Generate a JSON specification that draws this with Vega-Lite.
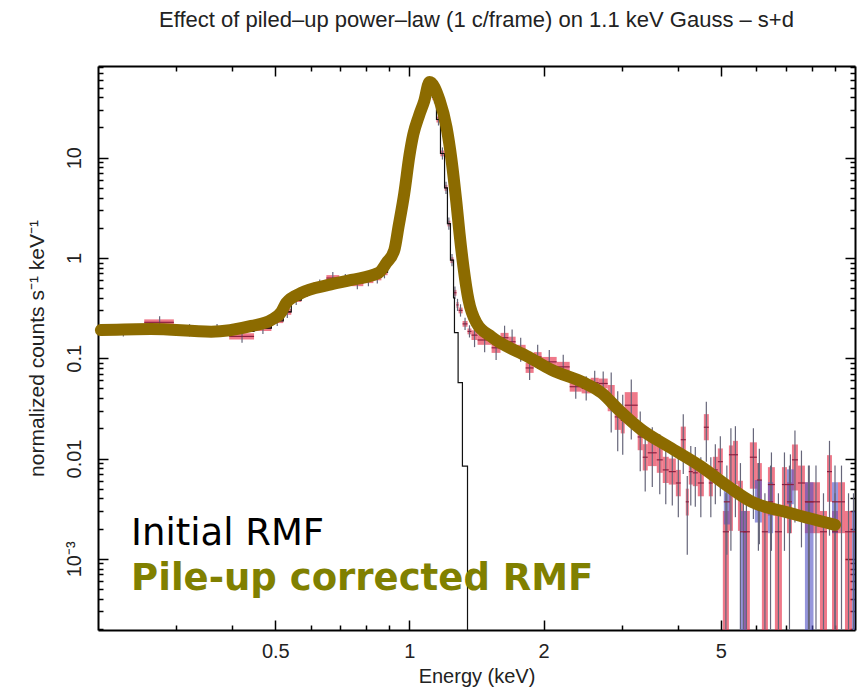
{
"$schema": "https://vega.github.io/schema/vega-lite/v6.json",
"width": 757, "height": 564,
"autosize": {"type": "none"},
"padding": {"left": 98, "top": 66, "right": 3, "bottom": 57},
"background": "white",
"title": {"text": "Effect of piled\u2013up power\u2013law (1 c/frame) on 1.1 keV Gauss \u2013 s+d", "font": "Liberation Sans", "fontSize": 22, "fontWeight": "normal", "color": "#222", "anchor": "middle", "offset": 33},
"config": {
 "view": {"stroke": null},
 "axis": {"domainColor": "black", "domainWidth": 2, "tickColor": "black", "tickWidth": 1.5, "grid": false,
  "labelFont": "Liberation Sans", "labelFontSize": 20, "labelColor": "#222", "labelOverlap": false, "labelFlush": false,
  "titleFont": "Liberation Sans", "titleFontSize": 21, "titleFontWeight": "normal", "titleColor": "#222"}
},
"datasets": {
 "bins": [
  {"g":"s","e0":0.203,"e1":0.254,"ec":0.228,"v":0.19,"b0":0.178,"b1":0.203,"w0":0.165,"w1":0.219},
  {"g":"s","e0":0.254,"e1":0.296,"ec":0.275,"v":0.228,"b0":0.213,"b1":0.244,"w0":0.198,"w1":0.262},
  {"g":"s","e0":0.296,"e1":0.346,"ec":0.321,"v":0.19,"b0":0.178,"b1":0.203,"w0":0.165,"w1":0.219},
  {"g":"s","e0":0.346,"e1":0.394,"ec":0.37,"v":0.19,"b0":0.178,"b1":0.203,"w0":0.165,"w1":0.219},
  {"g":"s","e0":0.394,"e1":0.448,"ec":0.421,"v":0.165,"b0":0.154,"b1":0.177,"w0":0.143,"w1":0.19},
  {"g":"s","e0":0.448,"e1":0.49,"ec":0.469,"v":0.2,"b0":0.187,"b1":0.214,"w0":0.174,"w1":0.23},
  {"g":"s","e0":0.49,"e1":0.521,"ec":0.505,"v":0.24,"b0":0.224,"b1":0.257,"w0":0.209,"w1":0.276},
  {"g":"s","e0":0.521,"e1":0.543,"ec":0.532,"v":0.29,"b0":0.271,"b1":0.31,"w0":0.252,"w1":0.334},
  {"g":"s","e0":0.543,"e1":0.572,"ec":0.557,"v":0.39,"b0":0.364,"b1":0.417,"w0":0.339,"w1":0.449},
  {"g":"s","e0":0.572,"e1":0.608,"ec":0.59,"v":0.47,"b0":0.439,"b1":0.503,"w0":0.409,"w1":0.541},
  {"g":"s","e0":0.608,"e1":0.651,"ec":0.629,"v":0.53,"b0":0.495,"b1":0.567,"w0":0.461,"w1":0.61},
  {"g":"s","e0":0.651,"e1":0.696,"ec":0.673,"v":0.63,"b0":0.589,"b1":0.674,"w0":0.548,"w1":0.725},
  {"g":"s","e0":0.696,"e1":0.741,"ec":0.718,"v":0.6,"b0":0.561,"b1":0.642,"w0":0.522,"w1":0.69},
  {"g":"s","e0":0.741,"e1":0.788,"ec":0.764,"v":0.56,"b0":0.523,"b1":0.599,"w0":0.487,"w1":0.644},
  {"g":"s","e0":0.788,"e1":0.83,"ec":0.809,"v":0.6,"b0":0.561,"b1":0.642,"w0":0.522,"w1":0.69},
  {"g":"s","e0":0.83,"e1":0.865,"ec":0.847,"v":0.64,"b0":0.598,"b1":0.685,"w0":0.557,"w1":0.736},
  {"g":"s","e0":0.865,"e1":0.893,"ec":0.879,"v":0.72,"b0":0.673,"b1":0.77,"w0":0.626,"w1":0.828},
  {"g":"s","e0":0.893,"e1":0.916,"ec":0.904,"v":0.95,"b0":0.888,"b1":1.017,"w0":0.826,"w1":1.093},
  {"g":"s","e0":0.916,"e1":0.935,"ec":0.925,"v":1.5,"b0":1.4,"b1":1.61,"w0":1.3,"w1":1.73},
  {"g":"s","e0":0.935,"e1":0.955,"ec":0.945,"v":2.4,"b0":2.24,"b1":2.57,"w0":2.09,"w1":2.76},
  {"g":"s","e0":0.955,"e1":0.975,"ec":0.965,"v":3.8,"b0":3.55,"b1":4.07,"w0":3.3,"w1":4.37},
  {"g":"s","e0":0.975,"e1":0.995,"ec":0.985,"v":6.5,"b0":6.07,"b1":6.96,"w0":5.65,"w1":7.48},
  {"g":"s","e0":0.995,"e1":1.016,"ec":1.005,"v":10.5,"b0":9.81,"b1":11.2,"w0":9.13,"w1":12.1},
  {"g":"s","e0":1.016,"e1":1.037,"ec":1.026,"v":16,"b0":14.95,"b1":17.1,"w0":13.9,"w1":18.4},
  {"g":"s","e0":1.037,"e1":1.059,"ec":1.048,"v":24,"b0":22.4,"b1":25.7,"w0":20.9,"w1":27.6},
  {"g":"s","e0":1.059,"e1":1.081,"ec":1.07,"v":34,"b0":31.8,"b1":36.4,"w0":29.6,"w1":39.1},
  {"g":"s","e0":1.081,"e1":1.103,"ec":1.092,"v":46,"b0":43,"b1":49.2,"w0":40,"w1":52.9},
  {"g":"s","e0":1.103,"e1":1.126,"ec":1.114,"v":54,"b0":50.5,"b1":57.8,"w0":47,"w1":62.1},
  {"g":"s","e0":1.126,"e1":1.15,"ec":1.138,"v":40,"b0":37.4,"b1":42.8,"w0":34.8,"w1":46},
  {"g":"s","e0":1.15,"e1":1.174,"ec":1.162,"v":24,"b0":22.4,"b1":25.7,"w0":20.9,"w1":27.6},
  {"g":"s","e0":1.174,"e1":1.199,"ec":1.186,"v":11,"b0":10.3,"b1":11.8,"w0":9.57,"w1":12.65},
  {"g":"s","e0":1.199,"e1":1.217,"ec":1.208,"v":5.0,"b0":4.67,"b1":5.35,"w0":4.35,"w1":5.75},
  {"g":"s","e0":1.217,"e1":1.236,"ec":1.226,"v":2.2,"b0":2.06,"b1":2.35,"w0":1.91,"w1":2.53},
  {"g":"s","e0":1.236,"e1":1.256,"ec":1.246,"v":0.95,"b0":0.888,"b1":1.017,"w0":0.826,"w1":1.093},
  {"g":"s","e0":1.256,"e1":1.275,"ec":1.265,"v":0.45,"b0":0.42,"b1":0.48,"w0":0.39,"w1":0.52},
  {"g":"s","e0":1.275,"e1":1.289,"ec":1.282,"v":0.34,"b0":0.318,"b1":0.364,"w0":0.296,"w1":0.391},
  {"g":"s","e0":1.289,"e1":1.316,"ec":1.302,"v":0.3,"b0":0.28,"b1":0.32,"w0":0.26,"w1":0.345},
  {"g":"s","e0":1.316,"e1":1.35,"ec":1.333,"v":0.22,"b0":0.206,"b1":0.235,"w0":0.191,"w1":0.253},
  {"g":"s","e0":1.35,"e1":1.378,"ec":1.364,"v":0.185,"b0":0.173,"b1":0.198,"w0":0.161,"w1":0.213},
  {"g":"s","e0":1.378,"e1":1.422,"ec":1.4,"v":0.17,"b0":0.152,"b1":0.19,"w0":0.129,"w1":0.224},
  {"g":"s","e0":1.422,"e1":1.529,"ec":1.475,"v":0.152,"b0":0.136,"b1":0.17,"w0":0.115,"w1":0.2},
  {"g":"s","e0":1.529,"e1":1.601,"ec":1.565,"v":0.127,"b0":0.113,"b1":0.142,"w0":0.096,"w1":0.168},
  {"g":"s","e0":1.601,"e1":1.669,"ec":1.635,"v":0.16,"b0":0.143,"b1":0.179,"w0":0.121,"w1":0.211},
  {"g":"s","e0":1.669,"e1":1.731,"ec":1.7,"v":0.146,"b0":0.13,"b1":0.164,"w0":0.111,"w1":0.193},
  {"g":"s","e0":1.731,"e1":1.823,"ec":1.777,"v":0.121,"b0":0.108,"b1":0.136,"w0":0.092,"w1":0.16},
  {"g":"s","e0":1.823,"e1":1.9,"ec":1.861,"v":0.08,"b0":0.0714,"b1":0.0896,"w0":0.0606,"w1":0.106},
  {"g":"s","e0":1.9,"e1":1.98,"ec":1.94,"v":0.103,"b0":0.092,"b1":0.115,"w0":0.078,"w1":0.136},
  {"g":"s","e0":1.98,"e1":2.14,"ec":2.06,"v":0.092,"b0":0.082,"b1":0.103,"w0":0.07,"w1":0.121},
  {"g":"s","e0":2.14,"e1":2.289,"ec":2.214,"v":0.082,"b0":0.073,"b1":0.092,"w0":0.062,"w1":0.108},
  {"g":"s","e0":2.289,"e1":2.435,"ec":2.362,"v":0.052,"b0":0.0464,"b1":0.0582,"w0":0.0394,"w1":0.0686},
  {"g":"s","e0":2.435,"e1":2.551,"ec":2.493,"v":0.05,"b0":0.0446,"b1":0.056,"w0":0.0379,"w1":0.066},
  {"g":"s","e0":2.551,"e1":2.659,"ec":2.605,"v":0.057,"b0":0.0509,"b1":0.0638,"w0":0.0432,"w1":0.0752},
  {"g":"s","e0":2.659,"e1":2.786,"ec":2.722,"v":0.056,"b0":0.05,"b1":0.0627,"w0":0.0424,"w1":0.0739},
  {"g":"s","e0":2.786,"e1":2.889,"ec":2.837,"v":0.04,"b0":0.0296,"b1":0.054,"w0":0.0182,"w1":0.072},
  {"g":"s","e0":2.889,"e1":2.98,"ec":2.934,"v":0.026,"b0":0.0193,"b1":0.0351,"w0":0.0118,"w1":0.0468},
  {"g":"s","e0":2.98,"e1":3.042,"ec":3.011,"v":0.024,"b0":0.0178,"b1":0.0324,"w0":0.0109,"w1":0.0432},
  {"g":"s","e0":3.042,"e1":3.253,"ec":3.147,"v":0.034,"b0":0.0252,"b1":0.0459,"w0":0.0155,"w1":0.0612},
  {"g":"s","e0":3.253,"e1":3.339,"ec":3.296,"v":0.0164,"b0":0.0121,"b1":0.0221,"w0":0.00745,"w1":0.0295},
  {"g":"s","e0":3.339,"e1":3.426,"ec":3.382,"v":0.0103,"b0":0.0076,"b1":0.0139,"w0":0.0047,"w1":0.0185},
  {"g":"s","e0":3.426,"e1":3.59,"ec":3.508,"v":0.0114,"b0":0.0084,"b1":0.0154,"w0":0.0052,"w1":0.0205},
  {"g":"s","e0":3.59,"e1":3.703,"ec":3.646,"v":0.0097,"b0":0.0072,"b1":0.0131,"w0":0.0044,"w1":0.0175},
  {"g":"s","e0":3.703,"e1":3.819,"ec":3.761,"v":0.0077,"b0":0.0057,"b1":0.0104,"w0":0.0035,"w1":0.0139},
  {"g":"s","e0":3.819,"e1":3.962,"ec":3.89,"v":0.0074,"b0":0.0055,"b1":0.01,"w0":0.0034,"w1":0.0133},
  {"g":"s","e0":3.962,"e1":4.064,"ec":4.013,"v":0.0057,"b0":0.0042,"b1":0.0077,"w0":0.0026,"w1":0.0103},
  {"g":"s","e0":4.064,"e1":4.171,"ec":4.117,"v":0.0154,"b0":0.0114,"b1":0.0208,"w0":0.007,"w1":0.0277},
  {"g":"s","e0":4.171,"e1":4.236,"ec":4.203,"v":0.0037,"b0":0.0027,"b1":0.005,"w0":0.0011,"w1":0.0067},
  {"g":"s","e0":4.236,"e1":4.325,"ec":4.28,"v":0.0074,"b0":0.0055,"b1":0.01,"w0":0.0034,"w1":0.0133},
  {"g":"s","e0":4.325,"e1":4.438,"ec":4.381,"v":0.0072,"b0":0.0053,"b1":0.0097,"w0":0.0033,"w1":0.013},
  {"g":"s","e0":4.438,"e1":4.579,"ec":4.508,"v":0.0057,"b0":0.0042,"b1":0.0077,"w0":0.0026,"w1":0.0103},
  {"g":"s","e0":4.579,"e1":4.698,"ec":4.638,"v":0.0205,"b0":0.0152,"b1":0.0277,"w0":0.0093,"w1":0.0369},
  {"g":"s","e0":4.698,"e1":4.797,"ec":4.747,"v":0.0057,"b0":0.0042,"b1":0.0077,"w0":0.0026,"w1":0.0103},
  {"g":"s","e0":4.797,"e1":4.922,"ec":4.859,"v":0.0077,"b0":0.0057,"b1":0.0104,"w0":0.0035,"w1":0.0139},
  {"g":"s","e0":4.922,"e1":5.051,"ec":4.986,"v":0.0093,"b0":0.0069,"b1":0.0126,"w0":0.0042,"w1":0.0167},
  {"g":"s","e0":5.051,"e1":5.212,"ec":5.131,"v":0.00186,"b0":0.000195,"b1":0.003,"w0":0.000195,"w1":0.0045},
  {"g":"s","e0":5.212,"e1":5.321,"ec":5.266,"v":0.0109,"b0":0.0019,"b1":0.0135,"w0":0.0012,"w1":0.02},
  {"g":"s","e0":5.321,"e1":5.461,"ec":5.39,"v":0.0109,"b0":0.0055,"b1":0.015,"w0":0.0026,"w1":0.021},
  {"g":"s","e0":5.461,"e1":5.603,"ec":5.532,"v":0.0039,"b0":0.0019,"b1":0.006,"w0":0.000195,"w1":0.009},
  {"g":"s","e0":5.603,"e1":5.808,"ec":5.705,"v":0.00186,"b0":0.000195,"b1":0.003,"w0":0.000195,"w1":0.0045},
  {"g":"s","e0":5.808,"e1":6.023,"ec":5.915,"v":0.0103,"b0":0.005,"b1":0.0145,"w0":0.0025,"w1":0.02},
  {"g":"s","e0":6.023,"e1":6.18,"ec":6.1,"v":0.0061,"b0":0.003,"b1":0.009,"w0":0.0014,"w1":0.0125},
  {"g":"s","e0":6.18,"e1":6.376,"ec":6.278,"v":0.00186,"b0":0.000195,"b1":0.003,"w0":0.000195,"w1":0.0045},
  {"g":"s","e0":6.376,"e1":6.61,"ec":6.493,"v":0.0055,"b0":0.0027,"b1":0.0082,"w0":0.0012,"w1":0.0115},
  {"g":"s","e0":6.61,"e1":6.855,"ec":6.732,"v":0.00186,"b0":0.000195,"b1":0.003,"w0":0.000195,"w1":0.0045},
  {"g":"s","e0":6.855,"e1":7.035,"ec":6.945,"v":0.0055,"b0":0.0027,"b1":0.0082,"w0":0.0012,"w1":0.0115},
  {"g":"s","e0":7.035,"e1":7.219,"ec":7.127,"v":0.0037,"b0":0.0018,"b1":0.0058,"w0":0.000195,"w1":0.0085},
  {"g":"s","e0":7.219,"e1":7.446,"ec":7.332,"v":0.0097,"b0":0.0048,"b1":0.0138,"w0":0.0023,"w1":0.019},
  {"g":"s","e0":7.446,"e1":7.72,"ec":7.583,"v":0.0057,"b0":0.0028,"b1":0.0085,"w0":0.0013,"w1":0.012},
  {"g":"s","e0":7.72,"e1":8.006,"ec":7.863,"v":0.0037,"b0":0.0018,"b1":0.0058,"w0":0.000195,"w1":0.0085},
  {"g":"s","e0":8.006,"e1":8.343,"ec":8.174,"v":0.0037,"b0":0.0018,"b1":0.0058,"w0":0.000195,"w1":0.0085},
  {"g":"s","e0":8.343,"e1":8.652,"ec":8.497,"v":0.00186,"b0":0.000195,"b1":0.003,"w0":0.000195,"w1":0.0045},
  {"g":"s","e0":8.652,"e1":8.878,"ec":8.765,"v":0.0074,"b0":0.0037,"b1":0.0108,"w0":0.0017,"w1":0.015},
  {"g":"s","e0":8.878,"e1":9.158,"ec":9.018,"v":0.00186,"b0":0.000195,"b1":0.003,"w0":0.000195,"w1":0.0045},
  {"g":"s","e0":9.158,"e1":9.495,"ec":9.326,"v":0.0037,"b0":0.0018,"b1":0.0058,"w0":0.000195,"w1":0.0085},
  {"g":"s","e0":9.495,"e1":9.847,"ec":9.671,"v":0.00186,"b0":0.000195,"b1":0.003,"w0":0.000195,"w1":0.0045},
  {"g":"d","e0":5.077,"e1":5.238,"ec":5.157,"v":0.0037,"b0":0.0022,"b1":0.0058,"w0":0.0011,"w1":0.0085},
  {"g":"d","e0":5.517,"e1":5.72,"ec":5.618,"v":0.00186,"b0":0.000195,"b1":0.003,"w0":0.000195,"w1":0.0045},
  {"g":"d","e0":5.96,"e1":6.18,"ec":6.07,"v":0.0037,"b0":0.0023,"b1":0.0061,"w0":0.0012,"w1":0.009},
  {"g":"d","e0":6.376,"e1":6.55,"ec":6.463,"v":0.0037,"b0":0.0018,"b1":0.0058,"w0":0.000195,"w1":0.0085},
  {"g":"d","e0":7.035,"e1":7.29,"ec":7.162,"v":0.0055,"b0":0.0035,"b1":0.0078,"w0":0.0018,"w1":0.011},
  {"g":"d","e0":7.72,"e1":8.07,"ec":7.895,"v":0.0037,"b0":0.000195,"b1":0.0058,"w0":0.000195,"w1":0.0085},
  {"g":"d","e0":8.878,"e1":9.158,"ec":9.018,"v":0.0037,"b0":0.0018,"b1":0.0058,"w0":0.000195,"w1":0.0085},
  {"g":"d","e0":9.847,"e1":10,"ec":9.923,"v":0.00186,"b0":0.000195,"b1":0.003,"w0":0.000195,"w1":0.0045}
 ],
 "black": [
  {"e":0.203,"v":0.19},{"e":0.254,"v":0.2},{"e":0.296,"v":0.195},{"e":0.346,"v":0.19},{"e":0.394,"v":0.185},
  {"e":0.448,"v":0.2},{"e":0.49,"v":0.235},{"e":0.521,"v":0.29},{"e":0.543,"v":0.38},{"e":0.572,"v":0.46},
  {"e":0.608,"v":0.52},{"e":0.651,"v":0.57},{"e":0.696,"v":0.6},{"e":0.741,"v":0.6},{"e":0.788,"v":0.61},
  {"e":0.83,"v":0.64},{"e":0.865,"v":0.72},{"e":0.893,"v":0.95},{"e":0.916,"v":1.5},{"e":0.935,"v":2.4},
  {"e":0.955,"v":3.8},{"e":0.975,"v":6.5},{"e":0.995,"v":10.5},{"e":1.016,"v":16},{"e":1.037,"v":24},
  {"e":1.059,"v":34},{"e":1.081,"v":46},{"e":1.103,"v":54},{"e":1.126,"v":40},{"e":1.15,"v":24},
  {"e":1.174,"v":11},{"e":1.199,"v":5.0},{"e":1.217,"v":2.2},{"e":1.236,"v":0.95},{"e":1.256,"v":0.4},
  {"e":1.262,"v":0.18},{"e":1.286,"v":0.057},{"e":1.315,"v":0.0084},{"e":1.35,"v":0.000195}
 ],
 "fit": [
  {"e":0.203,"v":0.191},{"e":0.263,"v":0.196},{"e":0.359,"v":0.184},{"e":0.442,"v":0.21},{"e":0.49,"v":0.241},
  {"e":0.516,"v":0.29},{"e":0.529,"v":0.356},{"e":0.572,"v":0.448},{"e":0.658,"v":0.538},{"e":0.741,"v":0.604},
  {"e":0.852,"v":0.709},{"e":0.888,"v":0.892},{"e":0.925,"v":1.2},{"e":0.945,"v":2.04},{"e":0.974,"v":4.45},
  {"e":1.0,"v":10.5},{"e":1.02,"v":17},{"e":1.05,"v":26},{"e":1.08,"v":37},{"e":1.109,"v":56.9},{"e":1.168,"v":37.6},
  {"e":1.211,"v":20.2},{"e":1.243,"v":9.49},{"e":1.275,"v":3.53},{"e":1.295,"v":1.78},{"e":1.322,"v":0.813},
  {"e":1.357,"v":0.381},{"e":1.414,"v":0.225},{"e":1.529,"v":0.163},{"e":1.851,"v":0.103},{"e":2.085,"v":0.0764},
  {"e":2.47,"v":0.0567},{"e":2.7,"v":0.0451},{"e":2.95,"v":0.0305},{"e":3.32,"v":0.0193},{"e":3.82,"v":0.0131},
  {"e":4.53,"v":0.00824},{"e":5.21,"v":0.00521},{"e":5.87,"v":0.00369},{"e":6.97,"v":0.00294},{"e":9.02,"v":0.00218}
 ]
},
"resolve": {"scale": {"x": "shared", "y": "shared"}, "axis": {"x": "independent", "y": "independent"}},
"layer": [
 {
  "data": {"name": "bins"},
  "mark": {"type": "rect", "opacity": 0.6, "clip": true},
  "encoding": {
   "x": {"field": "e0", "type": "quantitative", "scale": {"type": "log", "domain": [0.2, 10], "nice": false},
    "axis": {"orient": "bottom", "title": "Energy (keV)", "titlePadding": 0, "titleFontSize": 20,
     "values": [0.3,0.4,0.5,0.6,0.7,0.8,0.9,1,2,3,4,5,6,7,8,9],
     "labelExpr": "indexof([0.5,1,2,5], datum.value) >= 0 ? datum.value + '' : ''",
     "tickSize": {"condition": {"test": "indexof([0.5,1,2,5], datum.value) >= 0", "value": -10}, "value": -5},
     "labelPadding": 21}},
   "x2": {"field": "e1"},
   "y": {"field": "b0", "type": "quantitative", "scale": {"type": "log", "domain": [0.000195, 82], "nice": false},
    "axis": {"orient": "left", "title": "normalized counts s\u207b\u00b9 keV\u207b\u00b9", "titlePadding": 12,
     "values": [0.0002,0.0003,0.0004,0.0005,0.0006,0.0007,0.0008,0.0009,0.001,0.002,0.003,0.004,0.005,0.006,0.007,0.008,0.009,0.01,0.02,0.03,0.04,0.05,0.06,0.07,0.08,0.09,0.1,0.2,0.3,0.4,0.5,0.6,0.7,0.8,0.9,1,2,3,4,5,6,7,8,9,10,20,30,40,50,60,70,80],
     "labelExpr": "datum.value == 0.001 ? '10\u207b\u00b3' : datum.value == 0.01 ? '0.01' : datum.value == 0.1 ? '0.1' : datum.value == 1 ? '1' : datum.value == 10 ? '10' : ''",
     "tickSize": {"condition": {"test": "indexof([0.001,0.01,0.1,1,10], datum.value) >= 0", "value": -10}, "value": -5},
     "labelAngle": -90, "labelAlign": "center", "labelBaseline": "bottom", "labelPadding": 24}},
   "y2": {"field": "b1"},
   "color": {"field": "g", "type": "nominal", "scale": {"domain": ["s", "d"], "range": ["#e4203c", "#5050c4"]}, "legend": null}
  }
 },
 {
  "data": {"name": "bins"},
  "mark": {"type": "rule", "color": "#66667a", "strokeWidth": 1.2, "clip": true},
  "encoding": {
   "x": {"field": "ec", "type": "quantitative", "scale": {"type": "log", "domain": [0.2, 10], "nice": false}, "axis": null},
   "y": {"field": "w0", "type": "quantitative", "scale": {"type": "log", "domain": [0.000195, 82], "nice": false}, "axis": null},
   "y2": {"field": "w1"}
  }
 },
 {
  "data": {"name": "bins"},
  "mark": {"type": "rule", "color": "#8a2040", "strokeWidth": 1.2, "clip": true},
  "encoding": {
   "x": {"field": "e0", "type": "quantitative", "scale": {"type": "log", "domain": [0.2, 10], "nice": false}, "axis": null},
   "x2": {"field": "e1"},
   "y": {"field": "v", "type": "quantitative", "scale": {"type": "log", "domain": [0.000195, 82], "nice": false}, "axis": null}
  }
 },
 {
  "data": {"name": "black"},
  "mark": {"type": "line", "color": "#111", "strokeWidth": 1.2, "interpolate": "step-after", "clip": true},
  "encoding": {
   "x": {"field": "e", "type": "quantitative", "scale": {"type": "log", "domain": [0.2, 10], "nice": false}, "axis": null},
   "y": {"field": "v", "type": "quantitative", "scale": {"type": "log", "domain": [0.000195, 82], "nice": false}, "axis": null}
  }
 },
 {
  "data": {"name": "fit"},
  "mark": {"type": "line", "color": "#8c6b00", "strokeWidth": 12, "interpolate": "monotone", "strokeCap": "round", "strokeJoin": "round"},
  "encoding": {
   "x": {"field": "e", "type": "quantitative", "scale": {"type": "log", "domain": [0.2, 10], "nice": false},
    "axis": {"orient": "top", "title": null, "labels": false,
     "values": [0.3,0.4,0.5,0.6,0.7,0.8,0.9,1,2,3,4,5,6,7,8,9],
     "tickSize": {"condition": {"test": "indexof([0.5,1,2,5], datum.value) >= 0", "value": -10}, "value": -5}}},
   "y": {"field": "v", "type": "quantitative", "scale": {"type": "log", "domain": [0.000195, 82], "nice": false},
    "axis": {"orient": "right", "title": null, "labels": false,
     "values": [0.0002,0.0003,0.0004,0.0005,0.0006,0.0007,0.0008,0.0009,0.001,0.002,0.003,0.004,0.005,0.006,0.007,0.008,0.009,0.01,0.02,0.03,0.04,0.05,0.06,0.07,0.08,0.09,0.1,0.2,0.3,0.4,0.5,0.6,0.7,0.8,0.9,1,2,3,4,5,6,7,8,9,10,20,30,40,50,60,70,80],
     "tickSize": {"condition": {"test": "indexof([0.001,0.01,0.1,1,10], datum.value) >= 0", "value": -10}, "value": -5}}}
  }
 },
 {
  "data": {"values": [{"t": "Initial RMF", "e": 0.2373, "v": 0.001376}]},
  "mark": {"type": "text", "align": "left", "baseline": "alphabetic", "font": "DejaVu Sans", "fontSize": 37, "color": "black"},
  "encoding": {
   "x": {"field": "e", "type": "quantitative", "scale": {"type": "log", "domain": [0.2, 10], "nice": false}, "axis": null},
   "y": {"field": "v", "type": "quantitative", "scale": {"type": "log", "domain": [0.000195, 82], "nice": false}, "axis": null},
   "text": {"field": "t"}
  }
 },
 {
  "data": {"values": [{"t": "Pile-up corrected RMF", "e": 0.2373, "v": 0.00049}]},
  "mark": {"type": "text", "align": "left", "baseline": "alphabetic", "font": "DejaVu Sans", "fontSize": 37, "fontWeight": "bold", "color": "#808000"},
  "encoding": {
   "x": {"field": "e", "type": "quantitative", "scale": {"type": "log", "domain": [0.2, 10], "nice": false}, "axis": null},
   "y": {"field": "v", "type": "quantitative", "scale": {"type": "log", "domain": [0.000195, 82], "nice": false}, "axis": null},
   "text": {"field": "t"}
  }
 }
]
}
